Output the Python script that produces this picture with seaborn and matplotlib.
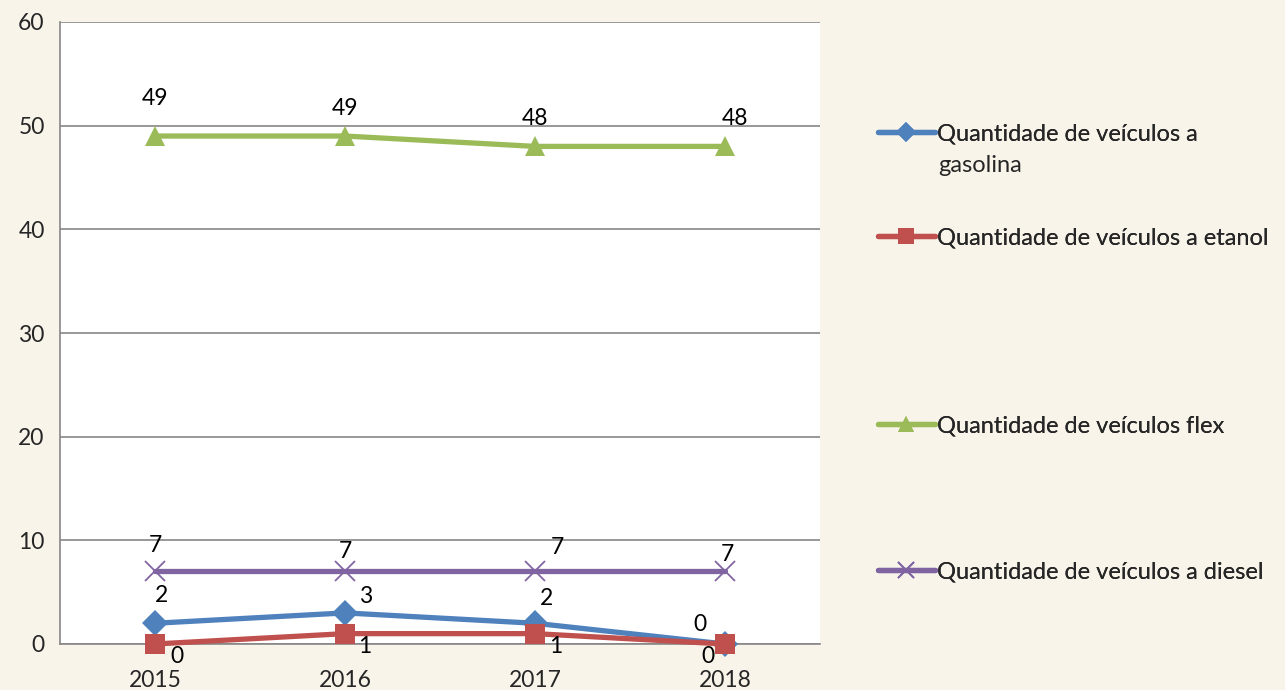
import numpy as np
import pandas as pd
import matplotlib.pyplot as plt
import seaborn as sns
from matplotlib.lines import Line2D

# dados
anos = ['2015', '2016', '2017', '2018']
gasolina = [2, 3, 2, 0]
etanol = [0, 1, 1, 0]
flex = [49, 49, 48, 48]
diesel = [7, 7, 7, 7]

series_nomes = ['Quantidade de veículos a',
                'Quantidade de veículos a etanol',
                'Quantidade de veículos flex',
                'Quantidade de veículos a diesel']

cores = ['#4F81BD', '#C0504D', '#9BBB59', '#8064A2']
marcadores = ['D', 's', '^', 'x']
tam_marc = [13, 14.5, 15, 15]

# deslocamento dos rótulos de dados (pontos)
desloc = [
    [(5, 20), (15, 11.5), (8, 18), (-18, 14)],
    [(16, -9), (14, -9), (15, -9), (-12, -9)],
    [(0, 27), (0, 20), (0, 20), (7, 20)],
    [(0, 19), (0, 14), (16, 17), (1.5, 12)],
]

df = pd.DataFrame({'ano': anos, 'x': range(len(anos)),
                   'gasolina': gasolina, 'etanol': etanol,
                   'flex': flex, 'diesel': diesel})

sns.set_style('white')
plt.rcParams['font.family'] = ['Lato', 'DejaVu Sans']
fs = 16.5

fig = plt.figure(figsize=(12.85, 6.9), dpi=100)
fig.patch.set_facecolor('#F8F4EA')
ax = fig.add_axes([60/1285, 46/690, 760/1285, 622/690])
ax.set_facecolor('white')

cols = ['gasolina', 'etanol', 'flex', 'diesel']
for i, c in enumerate(cols):
    sns.lineplot(data=df, x='x', y=c, ax=ax, color=cores[i], linewidth=3.8,
                 marker=marcadores[i], markersize=tam_marc[i],
                 markeredgecolor=cores[i], markeredgewidth=1.3 if marcadores[i] == 'x' else 0,
                 zorder=3 + (1 if c == 'etanol' else 0), clip_on=False)
    for j, v in enumerate(df[c]):
        ax.annotate(str(v), (j, v), xytext=desloc[i][j], textcoords='offset points',
                    ha='center', va='center', fontsize=fs, color='black', zorder=6)

ax.set_xlim(-0.5, 3.5)
ax.set_ylim(0, 60)
ax.set_yticks(range(0, 61, 10))
ax.set_xticks(np.arange(-0.5, 3.6, 1))
ax.set_xticklabels([])
ax.set_xticks(range(4), minor=True)
ax.set_xticklabels(anos, minor=True)
ax.tick_params(axis='x', which='major', length=8, width=1.2, color='#868686', direction='out')
ax.tick_params(axis='x', which='minor', length=0, pad=19, labelsize=fs)
ax.tick_params(axis='y', length=5, width=1.2, color='#868686', direction='out', labelsize=fs, pad=6)
ax.grid(axis='y', color='#868686', linewidth=1.2)
ax.set_axisbelow(True)
for s in ['top', 'right']:
    ax.spines[s].set_visible(False)
for s in ['left', 'bottom']:
    ax.spines[s].set_color('#868686')
    ax.spines[s].set_linewidth(1.2)
ax.set_xlabel('')
ax.set_ylabel('')

# legenda
leg_y = [1 - 134/690, 1 - 238/690, 1 - 426/690, 1 - 572/690]
for i in range(4):
    h = Line2D([], [], color=cores[i], linewidth=3.8, marker=marcadores[i],
               markersize=tam_marc[i] * 0.75, markeredgecolor=cores[i],
               markeredgewidth=1.3 if marcadores[i] == 'x' else 0)
    lg = fig.legend([h], [series_nomes[i]], loc='center left',
                    bbox_to_anchor=(878/1285, leg_y[i]), frameon=False,
                    fontsize=17, handlelength=2.4, handletextpad=0.1,
                    borderpad=0, borderaxespad=0)
    fig.add_artist(lg)
fig.text(938/1285, 1 - 166/690, 'gasolina', fontsize=17, ha='left', va='center')

plt.savefig('out.png', dpi=100, facecolor=fig.get_facecolor())
